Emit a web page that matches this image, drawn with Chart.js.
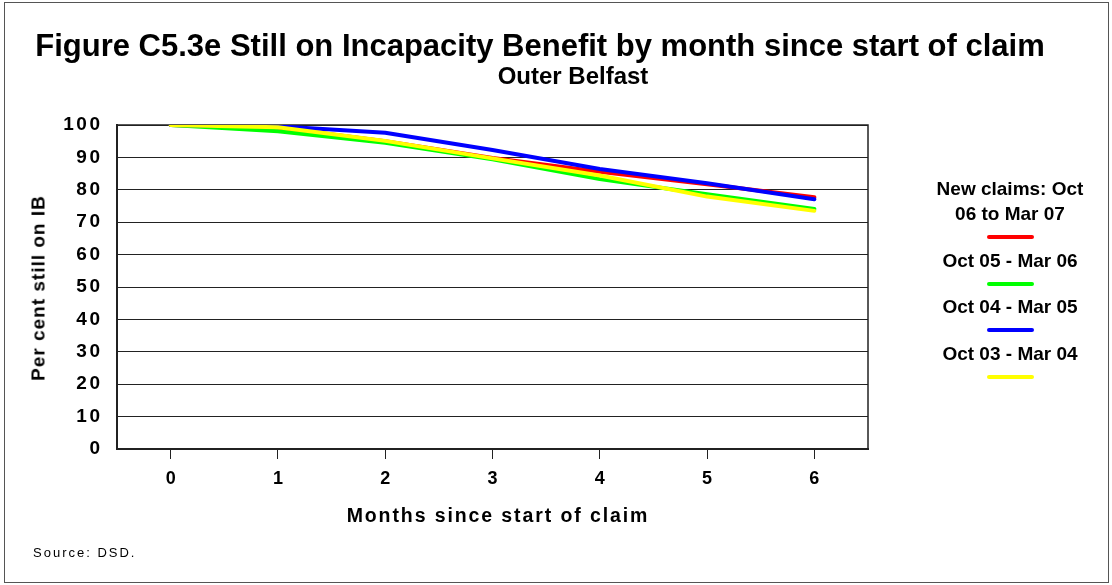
<!DOCTYPE html>
<html>
<head>
<meta charset="utf-8">
<script src="https://cdn.jsdelivr.net/npm/chart.js@4.4.1/dist/chart.umd.min.js"></script>
<style>
  html, body { margin: 0; padding: 0; background: #fff; }
  body { width: 1112px; height: 585px; position: relative; overflow: hidden;
         font-family: "Liberation Sans", Arial, sans-serif; color: #000; }
  #frame { position: absolute; left: 4px; top: 2px; width: 1105px; height: 581px;
           border: 1px solid #555; box-sizing: border-box; }
  canvas { position: absolute; left: 0; top: 0; }
  .lbl { position: absolute; white-space: nowrap; font-weight: bold;
         transform: translate(-50%, -50%); line-height: 1; }
  #title { left: 540px; top: 45px; font-size: 31px; }
  #subtitle { left: 573px; top: 76px; font-size: 24px; }
  #ytitle { left: 38px; top: 288px; font-size: 19px; letter-spacing: 1px;
            transform: translate(-50%, -50%) rotate(-90deg); }
  #xtitle { left: 498px; top: 516px; font-size: 19.5px; letter-spacing: 1.9px; }
  #source { position: absolute; left: 33px; top: 545px; font-size: 13px;
            letter-spacing: 2px; white-space: nowrap; }
  #legend { position: absolute; left: 930px; top: 176px; width: 160px;
            text-align: center; font-weight: bold; font-size: 19px; line-height: 25px; }
  #legend .swatch { width: 47px; height: 4px; border-radius: 2px; margin: 9px auto 8.5px auto; }
</style>
</head>
<body>
<div id="frame"></div>
<canvas id="c" width="1112" height="585"></canvas>
<div class="lbl" id="title">Figure C5.3e Still on Incapacity Benefit by month since start of claim</div>
<div class="lbl" id="subtitle">Outer Belfast</div>
<div class="lbl" id="ytitle">Per cent still on IB</div>
<div class="lbl" id="xtitle">Months since start of claim</div>
<div id="source">Source: DSD.</div>
<div id="legend"></div>
<script>
// Months since the claim started
const months = ['0', '1', '2', '3', '4', '5', '6'];

// Per cent of each claim cohort still on Incapacity Benefit
const claims0607 = [100, 99.2, 95.0, 89.8, 85.6, 81.7, 77.7];
const claims0506 = [100, 98.1, 94.5, 89.4, 83.3, 78.6, 74.1];
const claims0405 = [100, 99.6, 97.6, 92.3, 86.4, 82.0, 77.1];
const claims0304 = [100, 99.3, 95.1, 89.7, 84.4, 77.9, 73.5];

const seriesNames = ['New claims: Oct 06 to Mar 07', 'Oct 05 - Mar 06', 'Oct 04 - Mar 05', 'Oct 03 - Mar 04'];
const seriesColours = ['#ff0000', '#00ff00', '#0000ff', '#ffff00'];
const legendText = [['New claims: Oct', '06 to Mar 07'], ['Oct 05 - Mar 06'], ['Oct 04 - Mar 05'], ['Oct 03 - Mar 04']];

const yTicks = [0, 10, 20, 30, 40, 50, 60, 70, 80, 90, 100];

const FONT = '"Liberation Sans", Arial, sans-serif';

// legend at the right of the plot
const legend = document.getElementById('legend');
legendText.forEach((lines, i) => {
  const item = document.createElement('div');
  lines.forEach(t => {
    const d = document.createElement('div');
    d.textContent = t;
    item.appendChild(d);
  });
  const sw = document.createElement('div');
  sw.className = 'swatch';
  sw.style.background = seriesColours[i];
  item.appendChild(sw);
  legend.appendChild(item);
});

// frame round the plot area (right edge is not drawn by the axes)
const plotFrame = {
  id: 'plotFrame',
  beforeDatasetsDraw(chart) {
    const {ctx, chartArea: a} = chart;
    ctx.save();
    ctx.strokeStyle = '#222';
    ctx.lineWidth = 1.5;
    ctx.strokeRect(a.left, a.top, a.right - a.left, a.bottom - a.top);
    ctx.restore();
  }
};

// value-axis numbers are set with a little extra spacing between digits
const spacedYLabels = {
  id: 'spacedYLabels',
  beforeDraw(chart) {
    const s = chart.scales.y;
    if (!s || s._spacedLabels) return;
    const drawLabels = s.drawLabels.bind(s);
    s.drawLabels = function (area) {
      const ctx = this.ctx;
      ctx.save();
      ctx.letterSpacing = '2.5px';
      drawLabels(area);
      ctx.restore();
    };
    s._spacedLabels = true;
  }
};

const values = [claims0607, claims0506, claims0405, claims0304];
// the yellow cohort sits on top, then blue, green, red underneath
const drawOrder = [3, 2, 1, 0];

new Chart(document.getElementById('c'), {
  type: 'line',
  data: {
    labels: months,
    datasets: values.map((v, i) => ({
      label: seriesNames[i],
      data: v,
      borderColor: seriesColours[i],
      backgroundColor: seriesColours[i],
      borderWidth: 4,
      pointRadius: 0,
      tension: 0,
      borderCapStyle: 'round',
      borderJoinStyle: 'round',
      fill: false,
      order: drawOrder[i]
    }))
  },
  options: {
    responsive: false,
    animation: false,
    devicePixelRatio: 1,
    layout: { padding: { top: 125, right: 244, bottom: 0, left: 0 } },
    plugins: {
      legend: { display: false },
      title: { display: false },
      tooltip: { enabled: false }
    },
    scales: {
      x: {
        type: 'category',
        offset: true,
        grid: { display: true, drawOnChartArea: false, drawTicks: true, tickLength: 10,
                offset: false, color: '#222', lineWidth: 1 },
        border: { display: true, color: '#222', width: 2 },
        ticks: { color: '#000', font: { family: FONT, size: 18, weight: 'bold' },
                 padding: 9, maxRotation: 0, autoSkip: false },
        afterFit(s) { s.height = 136; }
      },
      y: {
        min: 0,
        max: 100,
        afterBuildTicks(s) { s.ticks = yTicks.map(v => ({ value: v })); },
        ticks: { color: '#000', font: { family: FONT, size: 19, weight: 'bold' }, padding: 14.5 },
        grid: { color: '#222', lineWidth: 1, drawTicks: false },
        border: { display: true, color: '#222', width: 2 },
        afterFit(s) { s.width = 117; }
      }
    }
  },
  plugins: [plotFrame, spacedYLabels]
});
</script>
</body>
</html>
